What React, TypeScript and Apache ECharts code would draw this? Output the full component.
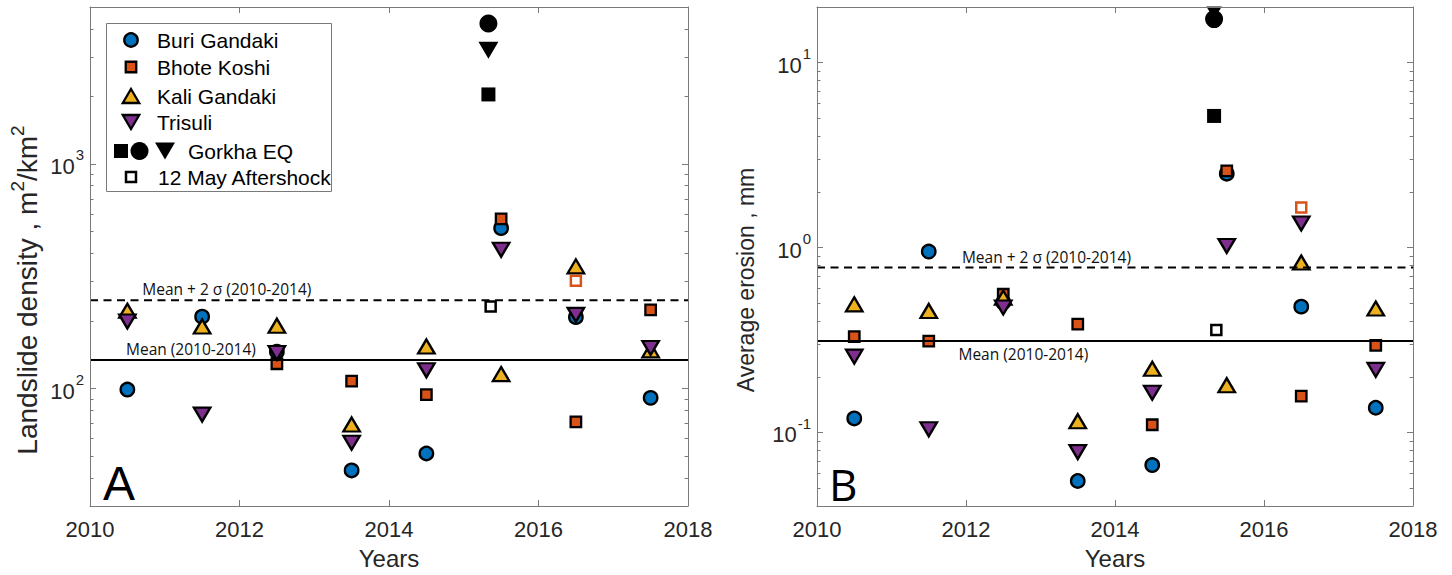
import React, { useEffect, useRef } from "react";
import * as echarts from "echarts";

// Sampling years (monsoon seasons are plotted mid-year)
const YEARS = [2010.5, 2011.5, 2012.5, 2013.5, 2014.5, 2015.5, 2016.5, 2017.5];
const GORKHA_YEAR = 2015.33;
const AFTERSHOCK_YEAR = 2015.36;
const OPEN_SQUARE_YEAR = 2016.5;

// Panel A: landslide density, m²/km²
const densityBuriGandaki = [99, 209, 146, 43.2, 51.4, 518, 208, 90.9];
const densityBhoteKoshi = [null, null, 129, 108, 94, 570, 71.1, 224];
const densityKaliGandaki = [222, 189, 190.5, 69.2, 154, 116, 350, 148];
const densityTrisuli = [199, 76.6, 144, 57.4, 120.6, 415, 213, 151.6];
const densityGorkhaEQ = [2040, 4220, 3210]; // square, circle, triangle
const densityAftershock = [232];
const densityBhoteKoshiOpen = [302];
const densityStats = [134, 247]; // mean, mean + 2σ (2010-2014)
const densityMajorTicks = [100, 1000];
const densityMinorTicks = [40, 50, 60, 70, 80, 90, 200, 300, 400, 500, 600, 700, 800, 900, 2000, 3000, 4000];

// Panel B: average erosion, mm
const erosionBuriGandaki = [0.119, 0.951, 0.505, 0.0546, 0.0666, 2.51, 0.479, 0.136];
const erosionBhoteKoshi = [0.33, 0.312, 0.559, 0.385, 0.11, 2.6, 0.157, 0.296];
const erosionKaliGandaki = [0.493, 0.454, 0.536, 0.115, 0.221, 0.18, 0.83, 0.468];
const erosionTrisuli = [0.257, 0.104, 0.474, 0.0783, 0.164, 1.02, 1.35, 0.218];
const erosionGorkhaEQ = [5.15, 17.2, 19.0]; // square, circle, triangle
const erosionAftershock = [0.358];
const erosionBhoteKoshiOpen = [1.646];
const erosionStats = [0.312, 0.779]; // mean, mean + 2σ (2010-2014)
const erosionMajorTicks = [0.1, 1, 10];
const erosionMinorTicks = [
  0.05, 0.06, 0.07, 0.08, 0.09, 0.2, 0.3, 0.4, 0.5, 0.6, 0.7, 0.8, 0.9, 2, 3, 4, 5, 6, 7, 8, 9,
];

const RIVERS = ["Buri Gandaki", "Bhote Koshi", "Kali Gandaki", "Trisuli"];
const COLORS = ["#0072BD", "#D95319", "#EDB120", "#7E2F8E"];

const FONT = "'Liberation Sans', Arial, Helvetica, sans-serif";
const NOTE_FONT = "'Open Sans', sans-serif";
const FRAME = "#7a7a7a";
const INK = "#262626";
const EDGE = 2.3;

const SYMBOLS: Record<string, any> = {
  circle: { symbol: "circle", symbolSize: 13.5 },
  square: { symbol: "rect", symbolSize: 10.5 },
  up: { symbol: "triangle", symbolSize: [16.5, 14] },
  down: { symbol: "triangle", symbolSize: [16.5, 14], symbolRotate: 180 },
};
const KINDS = ["circle", "square", "up", "down"];

const powerRich = {
  b: { fontSize: 22, fontFamily: FONT, color: INK, padding: [5, 0, 0, 0], verticalAlign: "middle" },
  s: { fontSize: 15, fontFamily: FONT, color: INK, padding: [0, 0, 18, 1], verticalAlign: "middle" },
};
const powerLabel = (v: number) => `{b|10}{s|${Math.round(Math.log10(v))}}`;

function xAxes(gridIndex: number) {
  const base: any = {
    type: "value",
    gridIndex,
    min: 2010,
    max: 2018,
    interval: 2,
    z: 60,
    splitLine: { show: false },
    axisLine: { show: true, lineStyle: { color: FRAME, width: 1 } },
    axisTick: { show: true, inside: true, length: 6, lineStyle: { color: FRAME, width: 1 } },
  };
  return [
    {
      ...base,
      position: "bottom",
      axisLabel: {
        show: true,
        margin: 12,
        fontSize: 22,
        fontFamily: FONT,
        color: INK,
        formatter: (v: number) => String(v),
      },
      name: "Years",
      nameLocation: "middle",
      nameGap: 40,
      nameTextStyle: { fontSize: 24, fontFamily: FONT, color: INK },
    },
    { ...base, position: "top", axisLabel: { show: false } },
  ];
}

function yAxes(gridIndex: number, min: number, max: number, major: number[], minor: number[]) {
  const base: any = {
    type: "log",
    logBase: 10,
    gridIndex,
    min,
    max,
    z: 60,
    splitLine: { show: false },
  };
  const line = { show: true, lineStyle: { color: FRAME, width: 1 } };
  const majorTick = { show: true, inside: true, length: 6, customValues: major, lineStyle: { color: FRAME, width: 1 } };
  const minorTick = { show: true, inside: true, length: 3.5, customValues: minor, lineStyle: { color: FRAME, width: 1 } };
  return [
    {
      ...base,
      position: "left",
      axisLine: line,
      axisTick: majorTick,
      axisLabel: { show: true, customValues: major, margin: 6, formatter: powerLabel, rich: powerRich },
    },
    { ...base, position: "left", axisLine: { show: false }, axisTick: minorTick, axisLabel: { show: false } },
    { ...base, position: "right", axisLine: line, axisTick: majorTick, axisLabel: { show: false } },
    { ...base, position: "right", axisLine: { show: false }, axisTick: minorTick, axisLabel: { show: false } },
  ];
}

function noteLabel(text: string, coord: number[], dy: number) {
  return {
    coord,
    label: {
      show: true,
      position: "inside",
      formatter: text,
      offset: [0, dy],
      fontFamily: NOTE_FONT,
      fontSize: 15.5,
      color: "#111",
    },
  };
}

function statLine(xi: number, yi: number, value: number, dashed: boolean, note: any) {
  return {
    type: "line",
    xAxisIndex: xi,
    yAxisIndex: yi,
    data: [
      [2010, value],
      [2018, value],
    ],
    symbol: "none",
    silent: true,
    lineStyle: { color: "#000", width: 2, type: dashed ? [8, 5.5] : "solid" },
    markPoint: {
      symbol: "rect",
      symbolSize: 1,
      silent: true,
      itemStyle: { color: "rgba(0,0,0,0)" },
      data: [note],
    },
  };
}

function panelSeries(
  xi: number,
  yi: number,
  rivers: (number | null)[][],
  gorkha: number[],
  aftershock: number[],
  bhoteOpen: number[],
  stats: number[],
  notes: any[]
) {
  const out: any[] = [];
  out.push(statLine(xi, yi, stats[0], false, notes[0]));
  out.push(statLine(xi, yi, stats[1], true, notes[1]));
  rivers.forEach((values, r) => {
    out.push({
      type: "scatter",
      name: RIVERS[r],
      xAxisIndex: xi,
      yAxisIndex: yi,
      data: YEARS.map((yr, i) => [yr, values[i]]).filter((p) => p[1] != null),
      ...SYMBOLS[KINDS[r]],
      silent: true,
      itemStyle: { color: COLORS[r], borderColor: "#000", borderWidth: EDGE, opacity: 1 },
    });
  });
  const gorkhaShapes = [
    { symbol: "rect", symbolSize: 14 },
    { symbol: "circle", symbolSize: 18 },
    { symbol: "triangle", symbolSize: [20, 17], symbolRotate: 180 },
  ];
  gorkha.forEach((v, k) => {
    out.push({
      type: "scatter",
      name: "Gorkha EQ",
      xAxisIndex: xi,
      yAxisIndex: yi,
      data: [[GORKHA_YEAR, v]],
      ...gorkhaShapes[k],
      silent: true,
      itemStyle: { color: "#000", borderWidth: 0, opacity: 1 },
    });
  });
  out.push({
    type: "scatter",
    name: "12 May Aftershock",
    xAxisIndex: xi,
    yAxisIndex: yi,
    data: aftershock.map((v) => [AFTERSHOCK_YEAR, v]),
    symbol: "rect",
    symbolSize: 10,
    silent: true,
    itemStyle: { color: "#fff", borderColor: "#000", borderWidth: 2.5, opacity: 1 },
  });
  out.push({
    type: "scatter",
    name: "Bhote Koshi (open)",
    xAxisIndex: xi,
    yAxisIndex: yi,
    data: bhoteOpen.map((v) => [OPEN_SQUARE_YEAR, v]),
    symbol: "rect",
    symbolSize: 10,
    silent: true,
    itemStyle: { color: "#fff", borderColor: COLORS[1], borderWidth: 2.5, opacity: 1 },
  });
  return out;
}

function legendGraphics() {
  const els: any[] = [];
  const textStyle = (text: string, x: number, y: number) => ({
    type: "text",
    x,
    y,
    style: { text, fontSize: 21, fontFamily: FONT, fill: "#000", align: "left", verticalAlign: "middle", textAlign: "left", textVerticalAlign: "middle" },
    z: 70,
  });
  const edge = { stroke: "#000", lineWidth: EDGE, lineJoin: "miter" };
  const tri = (cx: number, cy: number, w: number, h: number, down: boolean) =>
    down
      ? [[cx - w / 2, cy - h / 2], [cx + w / 2, cy - h / 2], [cx, cy + h / 2]]
      : [[cx, cy - h / 2], [cx + w / 2, cy + h / 2], [cx - w / 2, cy + h / 2]];
  els.push({
    type: "rect",
    shape: { x: 106.5, y: 23.5, width: 225, height: 168 },
    style: { fill: "#fff", stroke: FRAME, lineWidth: 1 },
    z: 65,
  });
  const mx = 131;
  const rows = [40, 67, 96, 122, 151, 177];
  els.push({ type: "circle", shape: { cx: mx, cy: rows[0], r: 6.75 }, style: { fill: COLORS[0], ...edge }, z: 70 });
  els.push({ type: "rect", shape: { x: mx - 5.25, y: rows[1] - 5.25, width: 10.5, height: 10.5 }, style: { fill: COLORS[1], ...edge }, z: 70 });
  els.push({ type: "polygon", shape: { points: tri(mx, rows[2], 16.5, 14, false) }, style: { fill: COLORS[2], ...edge }, z: 70 });
  els.push({ type: "polygon", shape: { points: tri(mx, rows[3], 16.5, 14, true) }, style: { fill: COLORS[3], ...edge }, z: 70 });
  RIVERS.forEach((name, i) => els.push(textStyle(name, 157, rows[i])));
  els.push({ type: "rect", shape: { x: 114, y: rows[4] - 7, width: 14, height: 14 }, style: { fill: "#000" }, z: 70 });
  els.push({ type: "circle", shape: { cx: 139.5, cy: rows[4], r: 9 }, style: { fill: "#000" }, z: 70 });
  els.push({ type: "polygon", shape: { points: tri(165, rows[4], 20, 17, true) }, style: { fill: "#000" }, z: 70 });
  els.push(textStyle("Gorkha EQ", 188, rows[4]));
  els.push({
    type: "rect",
    shape: { x: mx - 5, y: rows[5] - 5, width: 10, height: 10 },
    style: { fill: "#fff", stroke: "#000", lineWidth: 2.5 },
    z: 70,
  });
  els.push(textStyle("12 May Aftershock", 158, rows[5]));
  return els;
}

function titleText(text: string, x: number, y: number, size: number) {
  return {
    type: "text",
    x,
    y,
    rotation: Math.PI / 2,
    style: {
      text,
      fontSize: size,
      fontFamily: FONT,
      fill: INK,
      align: "center",
      verticalAlign: "middle",
      textAlign: "center",
      textVerticalAlign: "middle",
      rich: {
        s: { fontSize: Math.round(size * 0.68), fontFamily: FONT, fill: INK, color: INK, padding: [0, 0, Math.round(size * 0.68), 0] },
      },
    },
    z: 70,
  };
}

function panelLetter(text: string, x: number, y: number, size: number, family: string) {
  return {
    type: "text",
    x,
    y,
    style: {
      text,
      fontSize: size,
      fontFamily: family,
      fill: "#000",
      align: "left",
      verticalAlign: "middle",
      textAlign: "left",
      textVerticalAlign: "middle",
    },
    z: 70,
  };
}

export default function App() {
  const ref = useRef<HTMLDivElement | null>(null);

  useEffect(() => {
    if (!ref.current) return;
    const chart = echarts.init(ref.current, null, { renderer: "svg" });

    const series = [
      ...panelSeries(
        0,
        0,
        [densityBuriGandaki, densityBhoteKoshi, densityKaliGandaki, densityTrisuli],
        densityGorkhaEQ,
        densityAftershock,
        densityBhoteKoshiOpen,
        densityStats,
        [
          noteLabel("Mean (2010-2014)", [2011.35, densityStats[0]], -11),
          noteLabel("Mean + 2 σ (2010-2014)", [2011.83, densityStats[1]], -11),
        ]
      ),
      ...panelSeries(
        2,
        4,
        [erosionBuriGandaki, erosionBhoteKoshi, erosionKaliGandaki, erosionTrisuli],
        erosionGorkhaEQ,
        erosionAftershock,
        erosionBhoteKoshiOpen,
        erosionStats,
        [
          noteLabel("Mean (2010-2014)", [2012.77, erosionStats[0]], 13),
          noteLabel("Mean + 2 σ (2010-2014)", [2013.08, erosionStats[1]], -11),
        ]
      ),
    ];

    chart.setOption({
      animation: false,
      backgroundColor: "#fff",
      grid: [
        { left: 90, top: 7, width: 598, height: 499 },
        { left: 817, top: 7, width: 596, height: 499 },
      ],
      xAxis: [...xAxes(0), ...xAxes(1)],
      yAxis: [
        ...yAxes(0, 30, 5000, densityMajorTicks, densityMinorTicks),
        ...yAxes(1, 0.04, 20, erosionMajorTicks, erosionMinorTicks),
      ],
      series,
      graphic: [
        // keeps markers near the top edge of panel B inside its frame
        { type: "rect", shape: { x: 817, y: 0, width: 597, height: 6.5 }, style: { fill: "#fff" }, z: 50 },
        ...legendGraphics(),
        titleText("Landslide density , m{s|2}/km{s|2}", 27, 290, 28),
        titleText("Average erosion , mm", 746, 280, 23),
        panelLetter("A", 103, 483, 48, FONT),
        panelLetter("B", 829, 484, 44, NOTE_FONT),
      ],
    });

    return () => chart.dispose();
  }, []);

  return (
    <div
      ref={ref}
      style={{ position: "fixed", left: 0, top: 0, width: 1452, height: 575, background: "#fff" }}
    />
  );
}
